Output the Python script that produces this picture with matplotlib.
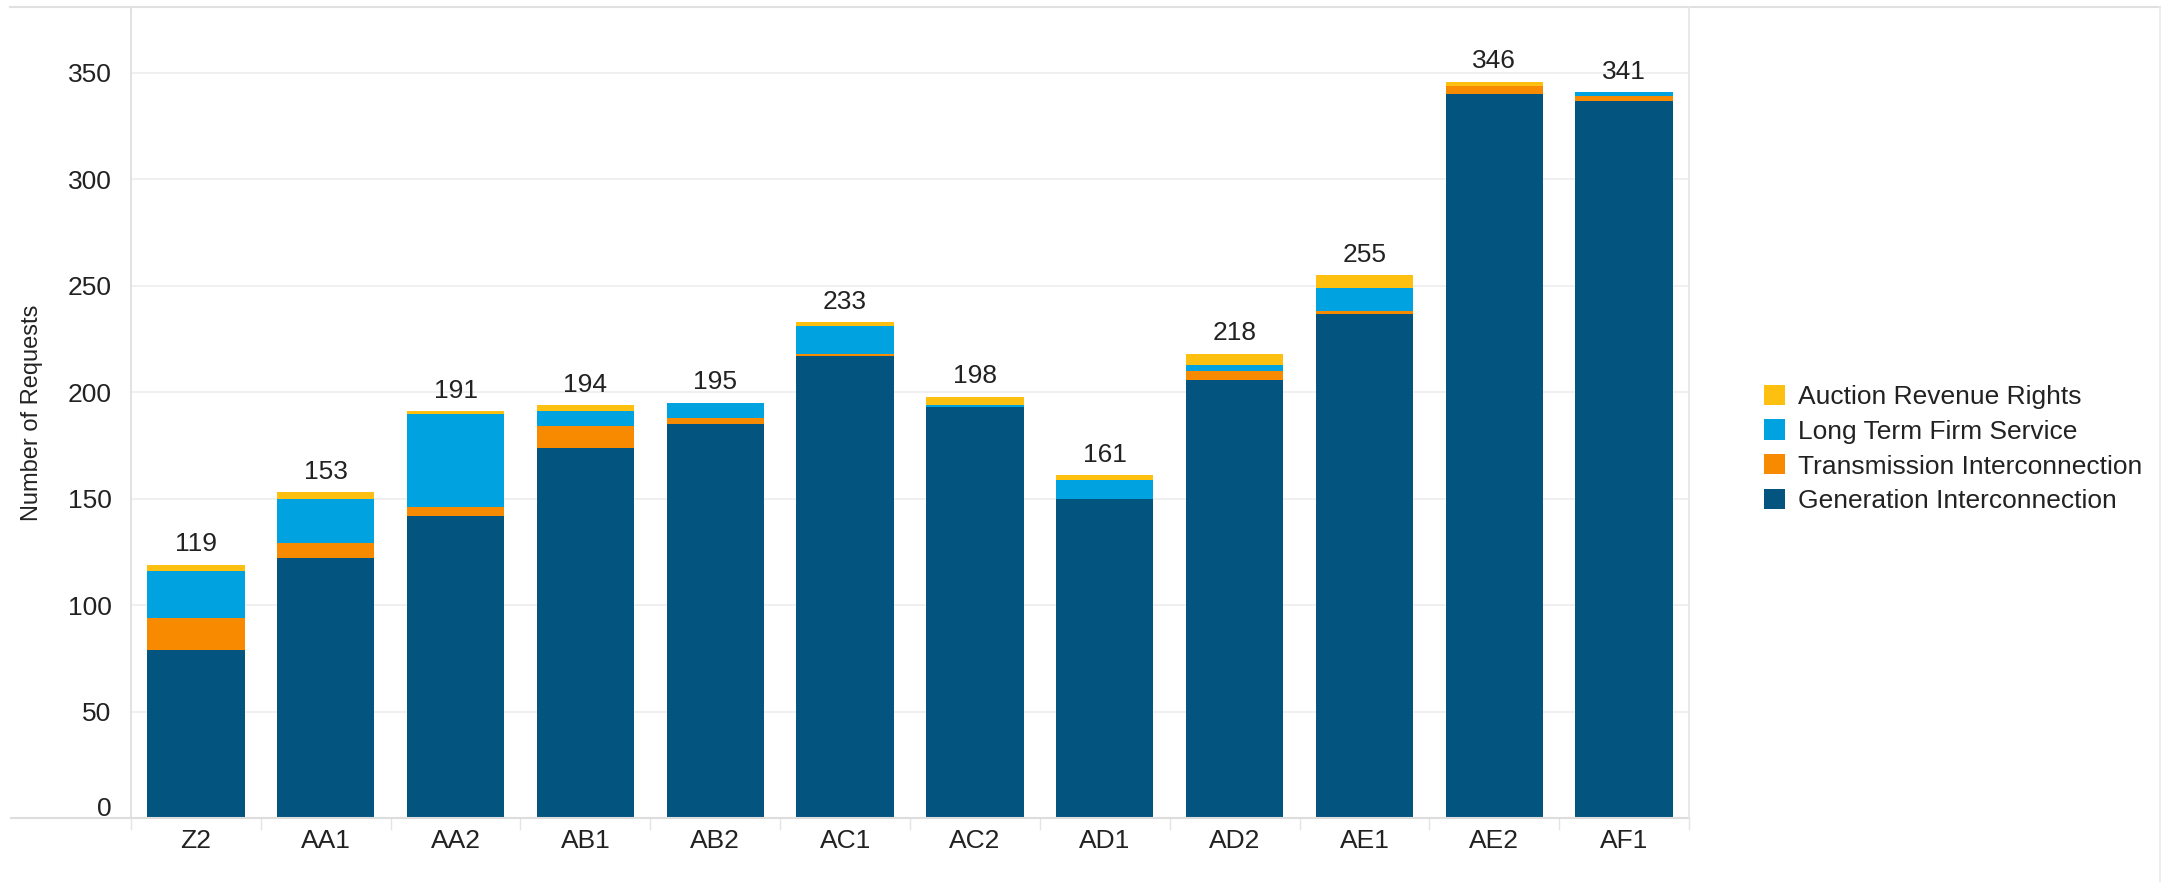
import matplotlib
matplotlib.use("Agg")
import matplotlib.pyplot as plt
from matplotlib.transforms import ScaledTranslation
import numpy as np

plt.rcParams['font.family'] = ['Liberation Sans', 'DejaVu Sans']

categories = ["Z2", "AA1", "AA2", "AB1", "AB2", "AC1", "AC2", "AD1", "AD2", "AE1", "AE2", "AF1"]
generation = [79, 122, 142, 174, 185, 217, 193, 150, 206, 237, 340, 337]
transmission = [15, 7, 4, 10, 3, 1, 0, 0, 4, 1, 4, 2]
long_term = [22, 21, 44, 7, 7, 13, 1, 9, 3, 11, 0, 2]
auction = [3, 3, 1, 3, 0, 2, 4, 2, 5, 6, 2, 0]
totals = [119, 153, 191, 194, 195, 233, 198, 161, 218, 255, 346, 341]

series_names = ["Generation Interconnection", "Transmission Interconnection",
                "Long Term Firm Service", "Auction Revenue Rights"]
colors = ["#03557F", "#F88A00", "#01A2E0", "#FDC010"]

fig = plt.figure(figsize=(21.65, 8.82), dpi=100)
ax = fig.add_axes([131/2165, 1 - 818/882, (1689-131)/2165, (818-7)/882])

x = np.arange(len(categories))
bottom = np.zeros(len(categories))
handles = []
for vals, name, c in zip([generation, transmission, long_term, auction], series_names, colors):
    h = ax.bar(x, vals, bottom=bottom, width=0.75, color=c, label=name, zorder=3, linewidth=0)
    handles.append(h)
    bottom += np.array(vals)

for xi, t in zip(x, totals):
    ax.text(xi, t + 4, str(t), ha='center', va='bottom', fontsize=19, color='#222222')

ax.set_xlim(-0.5, len(categories) - 0.5)
ax.set_ylim(0, 381)
ax.set_yticks(np.arange(0, 351, 50))
ax.set_xticks(x)
ax.set_xticklabels(categories, fontsize=19, color='#222222')
ax.tick_params(axis='y', labelsize=19, colors='#222222', length=0, pad=14)
ax.tick_params(axis='x', length=0, pad=8)
# raise the "0" label above the baseline
ylabels = ax.get_yticklabels()
ylabels[0].set_transform(ylabels[0].get_transform() + ScaledTranslation(0, 12/100, fig.dpi_scale_trans))
ax.grid(axis='y', color='#EEEEEE', linewidth=1.2, zorder=0)
for s in ['top', 'right', 'bottom']:
    ax.spines[s].set_visible(False)
ax.spines['left'].set_color('#DDDDDD')
ax.spines['left'].set_linewidth(1.2)

# baseline extending left and separators between categories
ax.plot([-0.5 - 120/129.8, len(categories) - 0.5], [0, 0], color='#DDDDDD', lw=1.5,
        clip_on=False, zorder=4)
for xi in np.arange(-0.5, len(categories), 1.0):
    ax.plot([xi, xi], [0, -5], color='#E5E5E5', lw=1.0, clip_on=False)

ax.set_ylabel("Number of Requests", fontsize=17, color='#222222', labelpad=18)

# outer frame lines
fig.add_artist(plt.Line2D([10/2165, 2160/2165], [1 - 7/882, 1 - 7/882], color='#E0E0E0', lw=1.5,
                          transform=fig.transFigure))
fig.add_artist(plt.Line2D([1689/2165, 1689/2165], [1 - 7/882, 1 - 818/882], color='#E5E5E5', lw=1.2,
                          transform=fig.transFigure))
fig.add_artist(plt.Line2D([2160/2165, 2160/2165], [1 - 7/882, 0.0], color='#EAEAEA', lw=1.2,
                          transform=fig.transFigure))

leg = fig.legend(handles[::-1], series_names[::-1], loc='center left',
                 bbox_to_anchor=(1740/2165, 1 - 449/882), frameon=False, fontsize=19,
                 handlelength=0.8, handleheight=0.8, handletextpad=0.5, labelspacing=0.4)
for t in leg.get_texts():
    t.set_color('#222222')

fig.savefig("out.png", dpi=100, facecolor='white')
